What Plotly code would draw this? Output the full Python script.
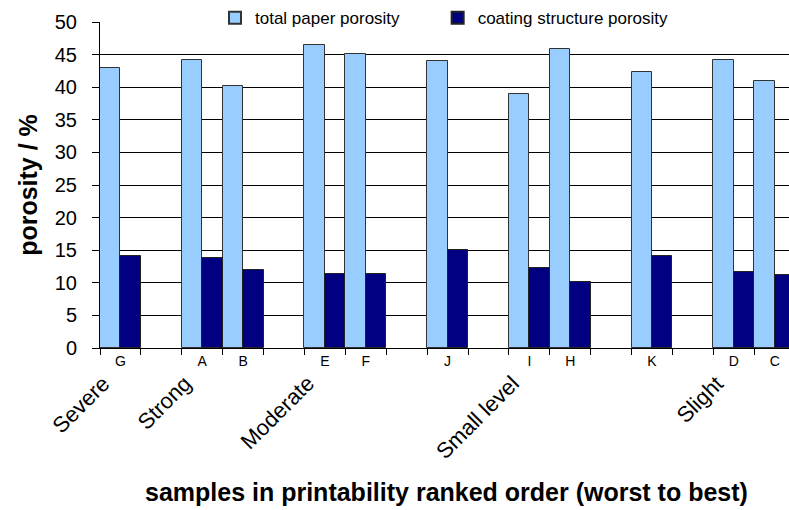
import plotly.graph_objects as go

# Slots along the x axis; None marks an empty spacer slot between printability groups
slot_labels = ["G", None, "A", "B", None, "E", "F", None, "J", None,
               "I", "H", None, "K", None, "D", "C"]
total_porosity = [42.9, None, 44.1, 40.2, None, 46.5, 45.1, None, 44.0, None,
                  38.9, 45.8, None, 42.4, None, 44.2, 40.9]
coating_porosity = [14.1, None, 13.8, 12.0, None, 11.4, 11.4, None, 15.0, None,
                    12.3, 10.1, None, 14.1, None, 11.7, 11.2]

group_names = ["Severe", "Strong", "Moderate", "Small level", "Slight"]
group_first_sample = ["G", "A", "E", "I", "D"]

y_ticks = [0, 5, 10, 15, 20, 25, 30, 35, 40, 45, 50]

FONT = "Liberation Sans, Arial, sans-serif"

# unique category names so the spacer slots stay separate
categories = [lab if lab else " " * (i + 1) for i, lab in enumerate(slot_labels)]

fig = go.Figure()
fig.add_bar(x=categories, y=total_porosity,
            name="total paper porosity" + "\u00a0" * 7,
            marker=dict(color="#99CCFF", line=dict(color="#333333", width=1)))
fig.add_bar(x=categories, y=coating_porosity, name="coating structure porosity",
            marker=dict(color="#000080", line=dict(color="#222222", width=1)))

# printability group names, slanted under the first sample of each group
for name, first in zip(group_names, group_first_sample):
    fig.add_annotation(x=first, xref="x", y=0, yref="paper", yshift=-20, xshift=-3,
                       text=name, textangle=-45, showarrow=False,
                       xanchor="right", yanchor="top",
                       font=dict(family=FONT, size=22, color="black"))

# x axis title
fig.add_annotation(x=0.5, xref="paper", xshift=2, y=0, yref="paper", yshift=-144,
                   text="<b>samples in printability ranked order (worst to best)</b>",
                   showarrow=False, xanchor="center", yanchor="middle",
                   font=dict(family=FONT, size=25, color="black"))

fig.update_layout(
    width=789, height=510,
    margin=dict(l=100, r=0, t=18, b=162),
    paper_bgcolor="white", plot_bgcolor="white",
    barmode="group", bargap=0, bargroupgap=0,
    font=dict(family=FONT, color="black"),
    showlegend=True,
    legend=dict(orientation="h", x=0.5, xanchor="center", y=1.012, yanchor="middle",
                bgcolor="white", font=dict(family=FONT, size=17, color="black"),
                itemsizing="constant"),
    xaxis=dict(type="category", range=[-0.5, 16.35], tickson="boundaries",
               ticks="outside", ticklen=6, tickcolor="black",
               showline=True, linecolor="black", linewidth=1,
               showgrid=False, tickfont=dict(family=FONT, size=14, color="black"),
               tickangle=0),
    yaxis=dict(range=[0, 50], tickvals=y_ticks, ticks="outside", ticklen=7,
               tickcolor="black", showline=True, linecolor="black", linewidth=1,
               showgrid=True, gridcolor="black", gridwidth=1, zeroline=False,
               tickfont=dict(family=FONT, size=20, color="black"),
               ticklabelstandoff=11,
               title=dict(text="<b>porosity / %</b>",
                          font=dict(family=FONT, size=25, color="black"), standoff=10)),
)

fig.write_html("out.html")
